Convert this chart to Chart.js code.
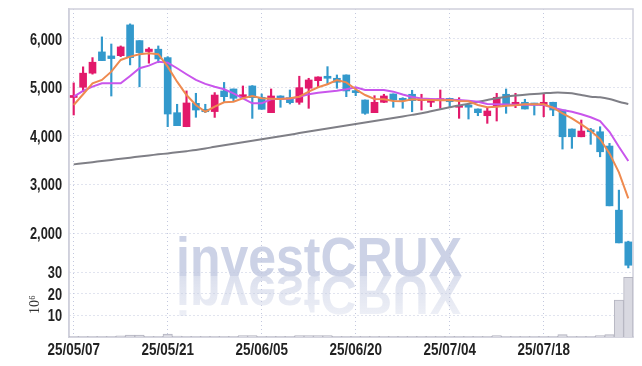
<!DOCTYPE html>
<html>
<head>
<meta charset="utf-8">
<script src="https://cdn.jsdelivr.net/npm/chart.js@4.4.1/dist/chart.umd.min.js"></script>
<style>
  html, body { margin: 0; padding: 0; background: #ffffff; }
  #wrap { width: 642px; height: 366px; }
</style>
</head>
<body>
<div id="wrap"><canvas id="chart" width="642" height="366"></canvas></div>
<script>
// Trading days (YY/MM/DD)
const dates = [
  '25/05/07','25/05/08','25/05/09','25/05/12','25/05/13','25/05/14','25/05/15','25/05/16','25/05/19','25/05/20',
  '25/05/21','25/05/22','25/05/23','25/05/26','25/05/27','25/05/28','25/05/29','25/05/30','25/06/02','25/06/04',
  '25/06/05','25/06/09','25/06/10','25/06/11','25/06/12','25/06/13','25/06/16','25/06/17','25/06/18','25/06/19',
  '25/06/20','25/06/23','25/06/24','25/06/25','25/06/26','25/06/27','25/06/30','25/07/01','25/07/02','25/07/03',
  '25/07/04','25/07/07','25/07/08','25/07/09','25/07/10','25/07/11','25/07/14','25/07/15','25/07/16','25/07/17',
  '25/07/18','25/07/21','25/07/22','25/07/23','25/07/24','25/07/25','25/07/28','25/07/29','25/07/30','25/07/31'
];

const open = [
  4790, 5000, 5290, 5727, 5645, 5650, 6283, 5960, 5735, 5783,
  5610, 4477, 4190, 4670, 4547, 4500, 4924, 4965, 4806, 5027,
  4794, 4477, 4821, 4786, 4691, 4980, 5136, 5212, 5185, 5253,
  4924, 4738, 4477, 4691, 4862, 4759, 4856, 4724, 4691, 4724,
  4773, 4588, 4621, 4553, 4415, 4621, 4856, 4621, 4691, 4670,
  4621, 4691, 4532, 4141, 3982, 4100, 4085, 3791, 2472, 1819
];
const high = [
  5090, 5420, 5610, 6036, 5890, 5850, 6304, 5960, 5815, 5850,
  5630, 4650, 4925, 4876, 4650, 4890, 5100, 4965, 5027, 5035,
  4862, 4965, 4825, 4944, 5227, 5185, 5215, 5424, 5253, 5255,
  4980, 4740, 4827, 4856, 4865, 4786, 4938, 4856, 4738, 4944,
  4775, 4786, 4670, 4555, 4567, 4876, 4965, 4876, 4753, 4672,
  4856, 4693, 4535, 4143, 4326, 4155, 4188, 3846, 2884, 1834
];
const low = [
  4430, 4910, 5270, 5548, 4820, 5630, 5460, 5010, 5495, 5505,
  4190, 4210, 4188, 4382, 4477, 4380, 4703, 4724, 4794, 4360,
  4547, 4477, 4588, 4656, 4650, 4567, 5000, 5068, 4980, 4806,
  4827, 4444, 4477, 4685, 4588, 4567, 4497, 4532, 4600, 4567,
  4580, 4361, 4347, 4415, 4258, 4306, 4464, 4580, 4553, 4429,
  4394, 4415, 3729, 3743, 3980, 3826, 3570, 2561, 1799, 1284
];
const close = [
  4800, 5290, 5515, 5548, 5590, 5830, 5610, 5713, 5785, 5583,
  4450, 4210, 4677, 4532, 4497, 4840, 4806, 4773, 4841, 4786,
  4547, 4821, 4753, 4683, 4992, 5150, 5212, 5185, 5103, 4924,
  4890, 4464, 4691, 4821, 4738, 4732, 4724, 4759, 4703, 4759,
  4703, 4615, 4590, 4477, 4512, 4794, 4621, 4691, 4553, 4635,
  4691, 4532, 3982, 3982, 4100, 4085, 3673, 2561, 1799, 1339
];

// Moving averages
const maShort = [
  4635, 4856, 5082, 5150, 5321, 5562, 5630, 5680, 5700, 5680,
  5424, 5115, 4841, 4635, 4497, 4600, 4691, 4703, 4773, 4821,
  4773, 4765, 4759, 4773, 4806, 4910, 5000, 5062, 5150, 5100,
  4959, 4841, 4759, 4753, 4718, 4711, 4753, 4745, 4738, 4735,
  4738, 4718, 4711, 4635, 4588, 4600, 4621, 4628, 4650, 4650,
  4650, 4580, 4464, 4361, 4238, 4106, 3935, 3640, 3249, 2713
];
const maMid = [
  4806, 4924, 5012, 5082, 5082, 5082, 5233, 5391, 5445, 5527,
  5507, 5391, 5268, 5150, 5070, 5012, 4959, 4876, 4773, 4670,
  4670, 4753, 4765, 4765, 4806, 4856, 4889, 4910, 4930, 4959,
  5000, 4944, 4944, 4944, 4910, 4850, 4800, 4770, 4760, 4752,
  4745, 4738, 4725, 4703, 4656, 4650, 4645, 4642, 4640, 4640,
  4635, 4580, 4532, 4497, 4444, 4382, 4306, 4085, 3776, 3482
];
const maLong = [
  3414, 3437, 3460, 3483, 3506, 3530, 3552, 3575, 3598, 3620,
  3640, 3663, 3686, 3710, 3740, 3775, 3806, 3838, 3869, 3900,
  3932, 3963, 3994, 4025, 4057, 4088, 4120, 4151, 4182, 4213,
  4245, 4276, 4307, 4338, 4370, 4401, 4432, 4464, 4505, 4546,
  4588, 4625, 4660, 4700, 4738, 4775, 4806, 4830, 4848, 4862,
  4876, 4889, 4889, 4876, 4841, 4806, 4794, 4759, 4703, 4656
];

// Volume in millions of shares
const volume = [
  0.3, 0.3, 0.3, 0.3, 0.3, 0.5, 0.9, 0.9, 0.3, 0.3,
  1.4, 0.4, 0.3, 0.3, 0.3, 0.3, 0.3, 0.3, 0.6, 0.6,
  0.3, 0.3, 0.3, 0.3, 0.6, 0.6, 0.6, 0.6, 0.3, 0.3,
  0.3, 0.3, 0.3, 0.3, 0.3, 0.3, 0.3, 0.3, 0.3, 0.3,
  0.3, 0.3, 0.3, 0.3, 0.3, 0.6, 0.3, 0.3, 0.3, 0.3,
  0.3, 0.3, 1.1, 0.3, 0.3, 0.3, 0.6, 1.1, 17, 27.5
];

const priceTicks = [2000, 3000, 4000, 5000, 6000];
const volumeTicks = [10, 20, 30];

const UP = '#e2196b';
const DOWN = '#3399cc';
const GRID = '#c3c8de';
const FRAME = '#cfd0dc';
const candleColors = open.map((o, i) => close[i] >= o ? UP : DOWN);

// Watermark drawn under everything, with a mirrored reflection
const watermark = {
  id: 'watermark',
  beforeDraw(chart) {
    const ctx = chart.ctx;
    const text = 'investCRUX';
    ctx.save();
    ctx.font = 'bold 56px "Liberation Sans", sans-serif';
    const w = ctx.measureText(text).width;
    const sx = 286 / w;
    ctx.textBaseline = 'alphabetic';
    ctx.textAlign = 'left';
    ctx.save();
    ctx.translate(176, 276);
    ctx.scale(sx, 1);
    ctx.fillStyle = '#ccd2e6';
    ctx.fillText(text, 0, 0);
    ctx.restore();
    // reflection
    ctx.save();
    ctx.translate(176, 276);
    ctx.scale(sx, -1);
    const g = ctx.createLinearGradient(0, 0, 0, -44);
    g.addColorStop(0, 'rgba(204, 210, 230, 0.7)');
    g.addColorStop(1, 'rgba(204, 210, 230, 0.3)');
    ctx.fillStyle = g;
    ctx.fillText(text, 0, 0);
    ctx.restore();
    ctx.restore();
  }
};

// Light frame round the plot area
const frame = {
  id: 'frame',
  beforeDatasetsDraw(chart) {
    const { ctx, chartArea } = chart;
    ctx.save();
    ctx.strokeStyle = FRAME;
    ctx.lineWidth = 1.5;
    ctx.strokeRect(chartArea.left, chartArea.top, chartArea.right - chartArea.left, chartArea.bottom - chartArea.top);
    ctx.restore();
  }
};

// Tick labels in a condensed face: the library's own labels and positions, squeezed sideways
const condensedTicks = {
  id: 'condensedTicks',
  afterDraw(chart) {
    const ctx = chart.ctx;
    ctx.save();
    ctx.font = 'bold 16px "Liberation Sans", sans-serif';
    ctx.fillStyle = '#222222';
    ctx.textBaseline = 'middle';
    ['y', 'yv'].forEach(id => {
      const s = chart.scales[id];
      ctx.textAlign = 'right';
      s.ticks.forEach((t, i) => {
        const py = s.getPixelForTick(i);
        ctx.save();
        ctx.translate(s.right - 7, py + 1.5);
        ctx.scale(0.8, 1);
        ctx.fillText(t.label, 0, 0);
        ctx.restore();
      });
    });
    const sx = chart.scales.x;
    ctx.textAlign = 'center';
    sx.ticks.forEach((t, i) => {
      const px = sx.getPixelForTick(i);
      ctx.save();
      ctx.translate(px, sx.top + 14);
      ctx.scale(0.84, 1);
      ctx.fillText(sx.getLabelForValue(t.value), 0, 0);
      ctx.restore();
    });
    ctx.restore();
  }
};

const ctx = document.getElementById('chart').getContext('2d');
const chart = new Chart(ctx, {
  type: 'bar',
  data: {
    labels: dates,
    datasets: [
      {
        label: 'MA short',
        type: 'line',
        data: maShort,
        yAxisID: 'y',
        borderColor: '#ef8a4f',
        borderWidth: 2,
        pointRadius: 0,
        tension: 0,
        order: 1
      },
      {
        label: 'MA mid',
        type: 'line',
        data: maMid,
        yAxisID: 'y',
        borderColor: '#c955ec',
        borderWidth: 2,
        pointRadius: 0,
        tension: 0,
        order: 1
      },
      {
        label: 'MA long',
        type: 'line',
        data: maLong,
        yAxisID: 'y',
        borderColor: '#7f7f86',
        borderWidth: 2,
        pointRadius: 0,
        tension: 0.3,
        order: 2
      },
      {
        label: 'Wick',
        data: low.map((l, i) => [l, high[i]]),
        yAxisID: 'y',
        backgroundColor: candleColors,
        barThickness: 1.5,
        grouped: false,
        order: 4
      },
      {
        label: 'Body',
        data: open.map((o, i) => [Math.min(o, close[i]), Math.max(o, close[i])]),
        yAxisID: 'y',
        backgroundColor: candleColors,
        barThickness: 7,
        minBarLength: 2,
        grouped: false,
        order: 3
      },
      {
        label: 'Volume',
        data: volume,
        yAxisID: 'yv',
        backgroundColor: '#d9d9e1',
        borderColor: '#b4b4c0',
        borderWidth: 1,
        barPercentage: 1,
        categoryPercentage: 1,
        grouped: false,
        order: 5
      }
    ]
  },
  options: {
    responsive: false,
    animation: false,
    devicePixelRatio: 1,
    layout: { padding: { top: 9, right: 9, left: 0, bottom: 0 } },
    plugins: {
      legend: { display: false },
      tooltip: { enabled: false }
    },
    scales: {
      x: {
        type: 'category',
        offset: true,
        grid: { offset: false, color: GRID, drawTicks: false },
        border: { display: true, color: FRAME, width: 1.5, dash: [1, 3] },
        ticks: { display: false, autoSkip: false },
        afterBuildTicks: s => { s.ticks = s.ticks.filter(t => t.value % 10 === 0); },
        afterFit: s => { s.height = 29; }
      },
      y: {
        type: 'linear',
        position: 'left',
        stack: 'panels',
        stackWeight: 263,
        weight: 1,
        min: 1200,
        max: 6610,
        grid: { color: GRID, drawTicks: false },
        border: { display: true, color: FRAME, width: 1.5, dash: [1, 3] },
        ticks: { display: false, callback: v => v.toLocaleString('en-US') },
        afterBuildTicks: s => { s.ticks = priceTicks.map(v => ({ value: v })); },
        afterFit: s => { s.width = 69; }
      },
      yv: {
        type: 'linear',
        position: 'left',
        stack: 'panels',
        stackWeight: 65,
        weight: 0,
        min: 0,
        max: 30,
        grid: { color: GRID, drawTicks: false },
        border: { display: true, color: FRAME, width: 1.5, dash: [1, 3] },
        ticks: { display: false },
        afterBuildTicks: s => { s.ticks = volumeTicks.map(v => ({ value: v })); },
        title: {
          display: true,
          text: '10⁶',
          color: '#333',
          font: { family: '"Liberation Serif", "DejaVu Serif", serif', size: 14 },
          padding: { top: 27, bottom: 0 }
        },
        afterFit: s => { s.width = 69; }
      }
    }
  },
  plugins: [watermark, frame, condensedTicks]
});
</script>
</body>
</html>
